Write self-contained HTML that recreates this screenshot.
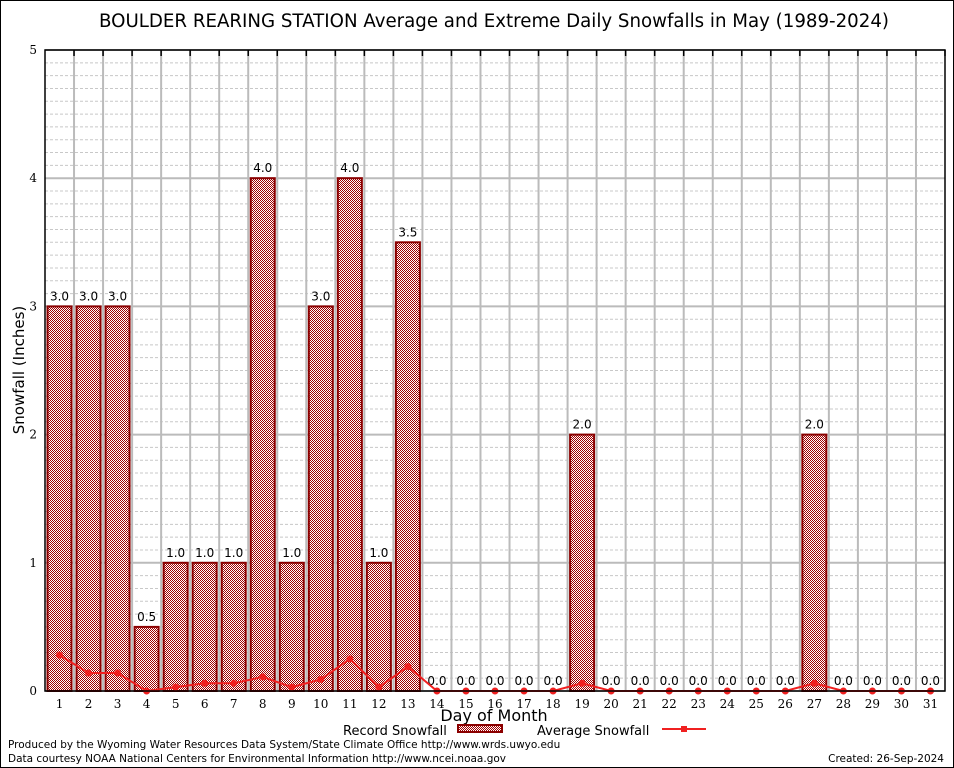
<!DOCTYPE html>
<html><head><meta charset="utf-8"><style>
body{margin:0;background:#fff}
svg{display:block;font-family:"DejaVu Sans","Liberation Sans",sans-serif}
</style></head><body>
<svg id="c" width="954" height="768" viewBox="0 0 954 768">
<defs><pattern id="pat" width="2" height="2" patternUnits="userSpaceOnUse"><rect width="2" height="2" fill="#fff"/><rect width="1" height="1" fill="#a00000"/><rect x="1" y="1" width="1" height="1" fill="#a00000"/></pattern></defs>
<rect x="0.5" y="0.5" width="953" height="767" fill="#fff" stroke="#000"/>
<text x="494" y="27" font-size="18.2" text-anchor="middle">BOULDER REARING STATION Average and Extreme Daily Snowfalls in May (1989-2024)</text>
<g id="grid"></g><g id="bars"></g><g id="avg"></g><g id="axes"></g>
<text transform="translate(24,370) rotate(-90)" font-size="15" text-anchor="middle">Snowfall (Inches)</text>
<text x="494" y="721" font-size="16" text-anchor="middle">Day of Month</text>
<g><text x="343" y="735" font-size="13">Record Snowfall</text><rect x="458" y="725" width="44" height="7" fill="url(#pat)" stroke="#8b0000" stroke-width="2"/></g>
<g><text x="537" y="735" font-size="13">Average Snowfall</text><line x1="662" y1="729" x2="706" y2="729" stroke="#f02020" stroke-width="2"/><rect x="681" y="726" width="6" height="6" fill="#f02020"/></g>
<text x="8" y="748" font-size="10.5">Produced by the Wyoming Water Resources Data System/State Climate Office http://www.wrds.uwyo.edu</text>
<text x="8" y="762" font-size="10.5">Data courtesy NOAA National Centers for Environmental Information http://www.ncei.noaa.gov</text>
<text x="944" y="762" font-size="10.5" text-anchor="end">Created:  26-Sep-2024</text>
</svg>
<script>
const days=[1,2,3,4,5,6,7,8,9,10,11,12,13,14,15,16,17,18,19,20,21,22,23,24,25,26,27,28,29,30,31];
const recordSnow=[3,3,3,0.5,1,1,1,4,1,3,4,1,3.5,0,0,0,0,0,2,0,0,0,0,0,0,0,2,0,0,0,0];
const avgSnow=[0.28,0.14,0.14,0,0.03,0.06,0.06,0.11,0.03,0.09,0.25,0.03,0.19,0,0,0,0,0,0.06,0,0,0,0,0,0,0,0.06,0,0,0,0];
const yTicks=[0,1,2,3,4,5];
const NS="http://www.w3.org/2000/svg";
const L=45,R=945,T=50,B=691,yMax=5;
const bw=(R-L)/days.length;
const xC=i=>L+bw*(i+0.5);
const y=v=>B-(B-T)*v/yMax;
function mk(p,t,a){const e=document.createElementNS(NS,t);for(const k in a)e.setAttribute(k,a[k]);p.appendChild(e);return e;}
const grid=document.getElementById('grid'),bars=document.getElementById('bars'),avg=document.getElementById('avg'),axes=document.getElementById('axes');
for(let v=0.1;v<yMax;v+=0.1){if(Math.abs(v-Math.round(v))<0.01)continue;const g=mk(grid,'line',{x1:L,x2:R,y1:y(v),y2:y(v),stroke:'#c8c8c8','stroke-dasharray':'3,2','stroke-width':1});

}
yTicks.forEach(v=>{const g=mk(grid,'line',{x1:L,x2:R,y1:y(v),y2:y(v),stroke:'#bbb','stroke-width':2});


const t=mk(axes,'text',{x:L-8,y:y(v)+4,'font-size':12,'text-anchor':'end','font-family':'DejaVu Serif,serif'});t.textContent=v;

});
for(let i=1;i<days.length;i++){const g=mk(grid,'line',{x1:L+bw*i,x2:L+bw*i,y1:T,y2:B,stroke:'#bbb','stroke-width':2});

}
days.forEach((d,i)=>{const v=recordSnow[i];
if(v>0){const r=mk(bars,'rect',{x:xC(i)-12,y:y(v),width:24,height:B-y(v),fill:'url(#pat)',stroke:'#8b0000','stroke-width':2});

}
const t=mk(bars,'text',{x:xC(i),y:y(v)-6,'font-size':12,'text-anchor':'middle'});t.textContent=v.toFixed(1);


const xl=mk(axes,'text',{x:xC(i),y:B+17,'font-size':12,'text-anchor':'middle','font-family':'DejaVu Serif,serif'});xl.textContent=d;


mk(axes,'line',{x1:L+bw*(i+1),x2:L+bw*(i+1),y1:T,y2:T+6,stroke:'#000','stroke-width':1.5});});
const pl=mk(avg,'polyline',{points:avgSnow.map((v,i)=>xC(i)+','+y(v)).join(' '),fill:'none',stroke:'#f02020','stroke-width':2});


avgSnow.forEach((v,i)=>{const m=mk(avg,'circle',{cx:xC(i),cy:y(v),r:3.5,fill:'#f02020'});

});
const fr=mk(axes,'rect',{x:L,y:T,width:R-L,height:B-T,fill:'none',stroke:'#000','stroke-width':1.5});


</script>
</body></html>
